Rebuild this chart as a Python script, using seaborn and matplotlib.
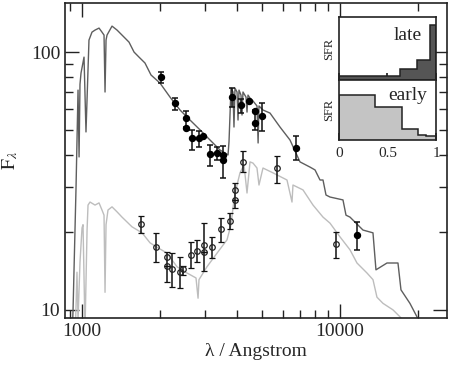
import numpy as np
import matplotlib
matplotlib.use('Agg')
import matplotlib.pyplot as plt
import matplotlib.ticker as ticker
import seaborn as sns

# model spectra: wavelength [Angstrom] and flux
late_wave = [914, 923, 948, 965, 974, 982, 991, 1018, 1036, 1064, 1093, 1123, 1164, 1195,
             1217, 1228, 1239, 1250, 1307, 1367, 1429, 1521, 1591, 1663, 1754, 1851, 2006,
             2193, 2398, 2622, 2868, 3134, 3427, 3681, 3714, 3780, 3848, 3882, 3917, 3989,
             4025, 4060, 4133, 4171, 4207, 4322, 4361, 4400, 4479, 4601, 4767, 4815, 4853,
             5029, 5354, 5854, 6400, 6998, 7651, 8003, 8367, 8594, 8826, 9147, 10271, 10551,
             10935, 12279, 13425, 13787, 15213, 16780, 17236, 18670, 19880, 21360]
late_flux = [7.6, 10.0, 30.0, 71.2, 39.2, 75.0, 82.9, 95.6, 49.0, 111.3, 119.5, 121.7, 123.9, 119.5,
             116.4, 70.0, 111.3, 116.4, 126.1, 121.7, 116.4, 109.3, 100.0, 95.6, 90.7, 81.5, 75.8,
             66.9, 59.6, 54.5, 49.9, 45.6, 41.7, 39.9, 45.0, 72.5, 70.0, 51.2, 72.5, 70.0,
             54.5, 71.2, 68.1, 57.0, 70.0, 66.9, 58.5, 68.1, 66.3, 64.6, 61.8, 44.4, 61.8,
             59.6, 58.0, 51.2, 45.6, 37.5, 35.8, 34.9, 31.9, 31.9, 27.9, 27.4, 26.7, 23.3,
             22.9, 20.4, 19.9, 14.3, 15.2, 15.2, 11.96, 10.6, 9.4, 7.65]

early_wave = [940, 956, 965, 982, 1000, 1009, 1027, 1046, 1055, 1074, 1123, 1164, 1195, 1217,
              1228, 1239, 1261, 1307, 1367, 1429, 1562, 1709, 1835, 1953, 2136, 2334, 2553,
              2766, 2817, 2841, 3051, 3337, 3648, 3780, 3882, 3989, 4096, 4246, 4361, 4479,
              4601, 4767, 4853, 5029, 5500, 6231, 6516, 6573, 7188, 7860, 8594, 9147, 10000,
              10935, 11638, 12725, 13425, 13911, 14680, 16050, 17085, 18670]
early_flux = [7.65, 14.0, 9.15, 15.3, 20.8, 21.4, 8.37, 20.4, 25.5, 26.2, 25.5, 26.0, 24.4, 23.3,
              11.7, 21.4, 24.4, 25.1, 24.0, 22.9, 21.0, 19.9, 18.2, 17.5, 16.6, 14.7, 13.9,
              13.3, 11.1, 13.1, 14.7, 16.6, 18.7, 21.4, 26.7, 30.5, 34.0, 36.5, 28.4, 37.5,
              37.1, 35.5, 30.5, 35.5, 34.0, 31.9, 26.2, 30.5, 29.2, 25.5, 22.9, 21.7, 19.2,
              17.1, 15.2, 13.9, 13.1, 11.2, 10.6, 10.0, 9.4, 8.4]

# photometry (filled = late type, open = early type)
late_obs_wave = [2024, 2294, 2530, 2530, 2669, 2841, 2944, 3134, 3337, 3521, 3521, 3814,
                 4133, 4440, 4683, 4683, 4986, 6752, 11638]
late_obs_flux = [80.0, 63.4, 55.5, 50.8, 46.4, 46.4, 47.2, 40.2, 40.6, 39.9, 38.1, 66.9,
                 62.3, 64.6, 59.1, 53.1, 56.5, 42.5, 19.5]
late_obs_lo = [75.8, 59.6, 51.2, 50.8, 41.7, 42.8, 47.2, 36.1, 38.1, 32.5, 38.1, 61.2,
               58.0, 64.6, 59.1, 49.9, 49.4, 38.1, 17.1]
late_obs_hi = [83.6, 66.3, 59.1, 50.8, 49.9, 49.4, 47.2, 43.6, 42.8, 43.2, 38.1, 72.5,
               65.7, 64.6, 59.1, 59.6, 63.4, 47.2, 21.9]

early_obs_wave = [1693, 1936, 2136, 2136, 2233, 2398, 2463, 2645, 2791, 2971, 2971, 3190,
                  3458, 3746, 3917, 3917, 4207, 5699, 9650]
early_obs_flux = [21.5, 17.5, 16.0, 14.8, 14.4, 14.0, 14.4, 16.3, 16.9, 17.9, 16.8, 17.5,
                  20.6, 22.1, 29.2, 26.7, 37.5, 35.5, 18.0]
early_obs_lo = [19.9, 15.3, 12.8, 14.8, 12.3, 12.2, 13.7, 14.5, 15.3, 14.2, 16.8, 15.9,
                18.3, 20.6, 24.8, 26.7, 34.3, 31.1, 15.9]
early_obs_hi = [23.1, 19.9, 16.8, 14.8, 16.6, 16.0, 14.8, 18.3, 18.7, 21.7, 16.8, 19.2,
                22.7, 23.8, 31.1, 26.7, 41.3, 39.5, 20.1]

# inset star formation histories
sfh_late_edges = [0, 0.63, 0.80, 0.94, 1.0]
sfh_late = [0.06, 0.17, 0.31, 0.875]
sfh_early_edges = [0, 0.37, 0.65, 0.81, 0.90, 1.0]
sfh_early = [0.75, 0.55, 0.18, 0.08, 0.07]

sns.set_theme(style='ticks')
plt.rcParams['font.family'] = ['Liberation Serif', 'DejaVu Serif']
plt.rcParams['mathtext.fontset'] = 'stix'

dark = '#5e5e5e'
light = '#bdbdbd'

fig = plt.figure(figsize=(4.52, 3.67), dpi=100)
ax = fig.add_axes([0.1438, 0.1335, 0.8452, 0.8583])

sns.lineplot(x=early_wave, y=early_flux, ax=ax, color=light, lw=1.0, estimator=None)
sns.lineplot(x=late_wave, y=late_flux, ax=ax, color=dark, lw=1.0, estimator=None)

fw = np.array(late_obs_flux)
ax.errorbar(late_obs_wave, fw, yerr=[fw - np.array(late_obs_lo), np.array(late_obs_hi) - fw],
            fmt='o', ms=4.3, color='black', ecolor='#111111', elinewidth=1.1, capsize=2.5,
            capthick=1.1, zorder=5)
fe = np.array(early_obs_flux)
ax.errorbar(early_obs_wave, fe, yerr=[fe - np.array(early_obs_lo), np.array(early_obs_hi) - fe],
            fmt='o', ms=4.0, mfc='none', mec='#222222', mew=0.9, ecolor='#111111',
            elinewidth=1.1, capsize=2.5, capthick=1.1, zorder=5)

ax.set_xscale('log')
ax.set_yscale('log')
ax.set_xlim(859, 26000)
ax.set_ylim(9.3, 155)
fmt = ticker.FuncFormatter(lambda v, p: f'{v:g}')
ax.xaxis.set_major_formatter(fmt)
ax.yaxis.set_major_formatter(fmt)
ax.xaxis.set_minor_formatter(ticker.NullFormatter())
ax.yaxis.set_minor_formatter(ticker.NullFormatter())
ax.tick_params(which='both', direction='in', top=True, right=True, labelsize=14,
               color='#222222', width=1)
ax.tick_params(which='major', length=10)
ax.tick_params(which='minor', length=6)
for s in ax.spines.values():
    s.set_color('#222222')
    s.set_linewidth(1.2)
ax.set_xlabel('λ / Angstrom', fontsize=14, labelpad=2)
ax.set_ylabel(r'$\mathrm{F}_{\lambda}$', fontsize=14, labelpad=8)

# inset panels
ax_late = fig.add_axes([0.75, 0.782, 0.2146, 0.1717])
ax_early = fig.add_axes([0.75, 0.6185, 0.2146, 0.1635])
for a, edges, h, col, lab, ty in [(ax_late, sfh_late_edges, sfh_late, '#555555', 'late', 0.71),
                                  (ax_early, sfh_early_edges, sfh_early, '#c4c4c4', 'early', 0.75)]:
    a.stairs(h, edges, fill=True, facecolor=col, edgecolor='none')
    a.stairs(h, edges, color='#222222', lw=1.1)
    a.set_xlim(0, 1)
    a.set_ylim(0, 1)
    a.set_yticks([])
    a.set_xticks([0, 0.5, 1])
    a.tick_params(axis='x', direction='in', length=5, labelsize=11, pad=5, color='#222222')
    a.set_ylabel('SFR', fontsize=9, labelpad=3)
    a.text(0.71, ty, lab, transform=a.transAxes, ha='center', va='center', fontsize=14)
    for s in a.spines.values():
        s.set_color('#222222')
        s.set_linewidth(1.2)
ax_late.set_xticklabels([])
ax_early.set_xticklabels(['0', '0.5', '1'])

fig.savefig('out.png', dpi=100)
